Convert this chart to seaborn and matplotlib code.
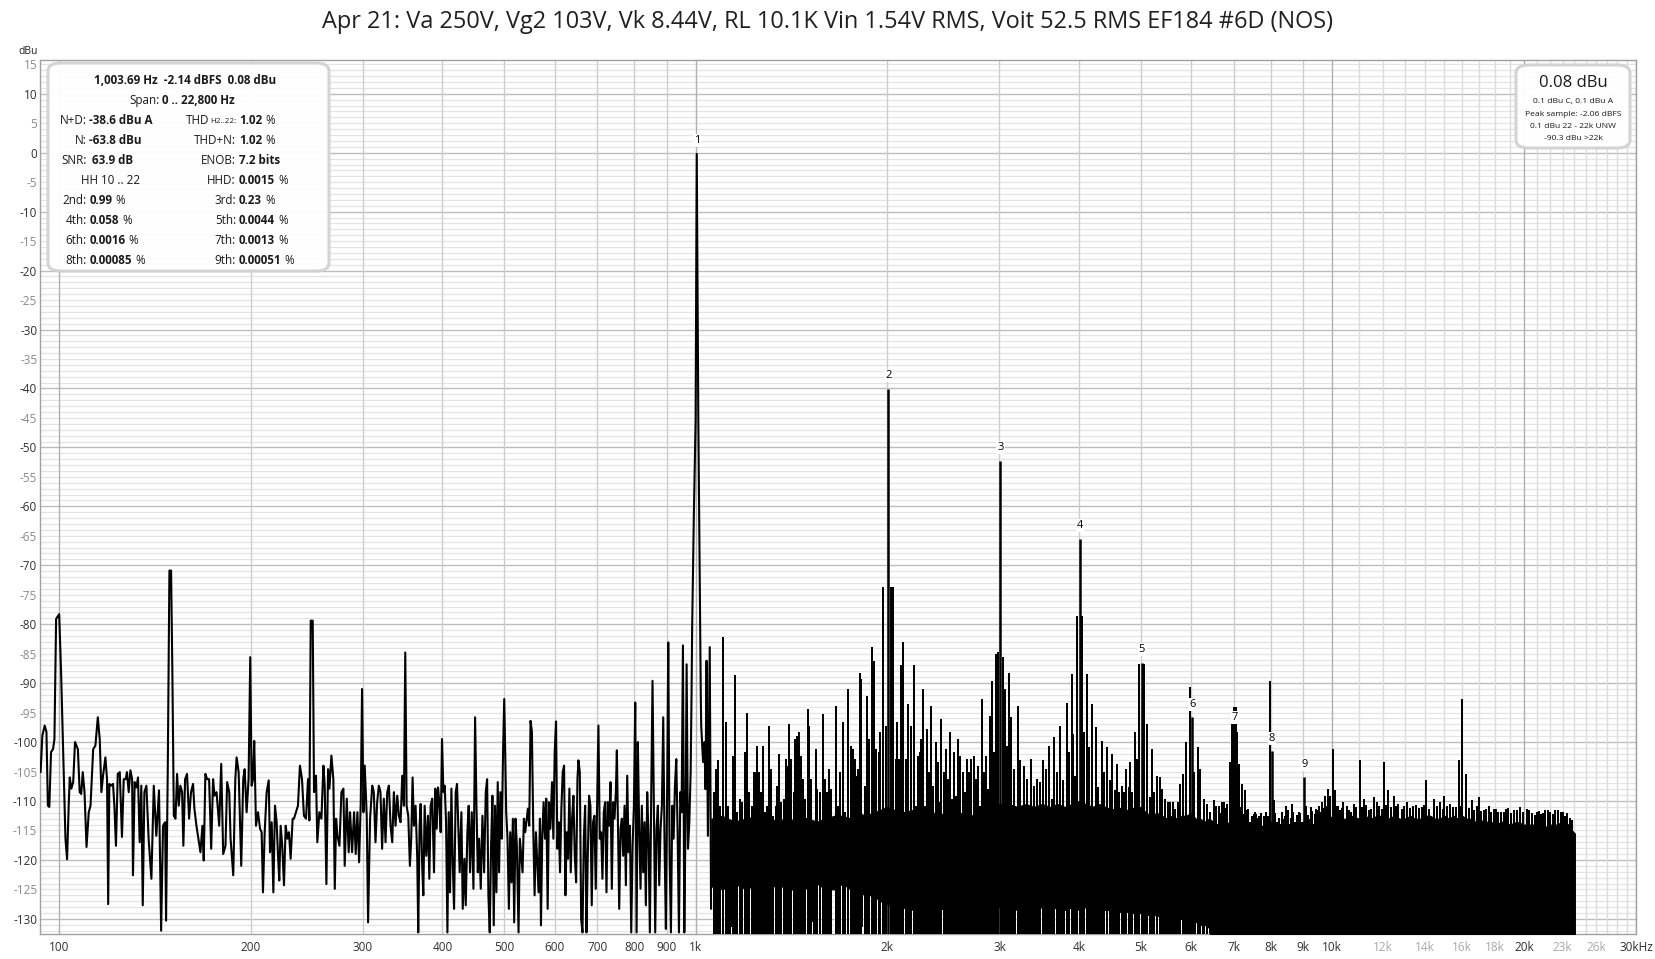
import matplotlib
matplotlib.use("Agg")
import matplotlib.pyplot as plt
from matplotlib.patches import FancyBboxPatch
import seaborn as sns

W, H = 1656, 959

TITLE = ("Apr 21: Va 250V, Vg2 103V, Vk 8.44V, RL 10.1K Vin 1.54V RMS, "
         "Voit 52.5 RMS EF184 #6D (NOS)")

# spectrum trace below ~1.06 kHz, read point by point (Hz / dBu)
trace_freq = [
    93.5, 94.1, 94.9, 95.5, 96.0, 96.5, 97.1, 97.8, 98.3, 98.9, 100.0, 100.7,
    101.4, 102.3, 102.9, 103.5, 103.9, 104.5, 105.2, 105.9, 107.0, 107.7, 108.3,
    108.9, 109.6, 110.4, 111.3, 112.0, 113.1, 114.0, 115.0, 115.8, 116.5, 117.2,
    118.2, 118.9, 119.4, 119.9, 120.6, 121.5, 122.1, 122.8, 123.6, 124.5, 125.5,
    126.3, 127.2, 127.8, 128.6, 129.4, 130.2, 130.6, 131.4, 132.2, 133.0, 133.8,
    134.6, 135.3, 136.1, 137.1, 138.2, 139.6, 140.8, 142.1, 143.5, 144.6, 145.6,
    146.7, 147.2, 148.1, 149.0, 149.9, 150.6, 151.4, 152.3, 153.2, 154.1, 155.0,
    156.0, 156.7, 157.7, 158.8, 160.0, 161.1, 162.3, 163.1, 164.3, 165.5, 166.7,
    167.9, 168.7, 169.7, 170.8, 172.0, 173.3, 174.5, 175.4, 176.7, 178.4, 179.7,
    181.0, 182.5, 183.6, 185.0, 185.9, 187.7, 189.1, 190.0, 191.4, 192.3, 193.2,
    194.6, 195.6, 197.0, 198.4, 199.6, 200.6, 201.6, 202.5, 203.8, 205.3, 206.8,
    208.0, 209.0, 210.3, 211.8, 213.4, 214.4, 215.7, 217.0, 218.3, 219.6, 220.7,
    221.7, 222.8, 224.1, 225.5, 226.9, 228.3, 229.6, 231.0, 232.7, 233.8, 235.5,
    237.2, 238.9, 240.7, 242.4, 244.2, 246.0, 247.2, 248.4, 250.2, 251.4, 253.2,
    254.4, 256.3, 258.2, 260.1, 261.3, 262.9, 264.5, 265.8, 267.7, 269.6, 271.0,
    272.3, 273.6, 275.6, 277.6, 279.6, 280.9, 283.0, 285.0, 286.4, 288.5, 290.6,
    292.3, 294.1, 295.9, 297.7, 299.1, 300.6, 302.0, 304.2, 305.7, 307.9,
    310.3, 312.1, 314.0, 315.9, 317.8, 319.7, 321.6, 323.6, 325.6, 327.6, 329.6,
    331.6, 333.6, 335.6, 337.6, 339.7, 341.7, 343.8, 345.9, 348.0, 349.7, 351.4,
    353.5, 355.6, 357.3, 359.1, 360.8, 363.0, 365.2, 366.5, 368.3, 369.7, 371.9,
    373.3, 375.1, 377.3, 379.6, 381.5, 383.3, 385.6, 388.0, 389.9, 391.8, 393.7,
    395.6, 397.5, 399.4, 401.4, 403.3, 405.3, 407.3, 409.2, 411.2, 413.2, 415.2,
    417.2, 419.7, 421.7, 423.8, 425.8, 428.4, 430.5, 433.1, 435.2, 437.8, 439.9,
    442.1, 444.8, 447.5, 450.2, 452.4, 454.6, 456.8, 459.5, 462.3, 465.1, 467.9,
    470.2, 472.4, 474.7, 477.0, 479.3, 481.6, 483.9, 486.3, 488.6, 491.0, 493.3,
    495.7, 498.1, 500.2, 502.0, 503.8, 506.2, 508.7, 511.2, 513.6, 516.1, 518.6,
    521.1, 523.6, 526.8, 529.3, 534.5, 537.1, 539.7, 544.9, 547.6, 550.2, 552.9,
    555.6, 558.3, 561.0, 566.4, 569.2, 571.3, 574.0, 576.8, 579.6, 582.4, 585.3,
    588.1, 591.0, 594.6, 597.5, 600.4, 603.3, 606.2, 609.1, 612.1, 615.1, 618.1,
    621.1, 624.1, 627.1, 630.2, 633.2, 636.3, 639.4, 642.5, 645.6, 648.8, 651.9,
    654.3, 657.5, 660.7, 663.9, 667.1, 670.3, 673.6, 676.6, 679.9, 683.2, 686.5,
    689.8, 693.2, 696.5, 699.9, 703.3, 706.7, 710.2, 713.6, 717.1, 720.6, 724.1,
    727.6, 731.1, 734.7, 738.2, 741.8, 745.4, 749.1, 751.8, 754.5, 758.2, 761.9,
    765.5, 769.2, 773.0, 776.7, 780.5, 784.3, 788.1, 791.9, 795.8, 799.6, 803.5,
    807.4, 811.1, 815.1, 819.0, 822.9, 826.9, 830.9, 834.9, 839.0, 843.0, 847.1,
    851.2, 855.3, 859.5, 863.7, 867.8, 872.0, 876.3, 880.5, 884.8, 889.1, 893.4,
    897.7, 902.1, 905.4, 909.8, 914.2, 918.6, 923.1, 927.6, 932.1, 936.6, 941.1,
    945.7, 950.2, 954.8, 959.5, 964.1, 967.6, 972.4, 977.1, 981.8, 985.0, 987.2,
    993.0, 999.6, 1002.5, 1003.7, 1005.0, 1009.4, 1014.0, 1018.6, 1020.0, 1027.0,
    1032.0, 1036.0, 1040.0, 1045.0, 1052.0, 1057.0,
]
trace_level = [
    -105.1, -98.9, -97.2, -98.3, -110.8, -111.0, -101.7, -101.2, -99.5, -79.1,
    -78.3, -88.2, -100.6, -116.4, -119.9, -110.8, -106.0, -107.9, -106.8, -100.0,
    -101.2, -108.5, -108.8, -105.1, -108.5, -117.8, -111.9, -110.8, -101.2, -100.6,
    -95.8, -99.5, -108.5, -105.7, -102.6, -106.3, -127.5, -107.1, -107.4, -107.1,
    -110.8, -117.6, -105.4, -105.1, -116.1, -106.3, -106.3, -105.1, -108.5, -104.8,
    -106.3, -122.6, -106.8, -107.7, -106.0, -117.0, -107.4, -127.7, -108.5, -107.4,
    -116.4, -123.2, -107.4, -115.9, -108.2, -132.0, -114.2, -113.6, -130.3, -105.1,
    -70.9, -70.9, -88.2, -112.5, -113.0, -105.4, -110.8, -107.4, -108.5, -117.6,
    -106.3, -105.4, -113.0, -108.5, -107.1, -111.3, -114.2, -116.4, -118.7, -114.2,
    -120.1, -105.4, -106.3, -106.3, -118.1, -106.3, -109.1, -108.5, -114.2, -103.7,
    -119.0, -117.6, -106.8, -108.5, -116.4, -122.6, -106.3, -102.6, -105.1, -113.3,
    -121.0, -106.3, -104.6, -111.9, -106.3, -85.6, -107.4, -106.3, -99.8, -114.2,
    -111.9, -114.7, -115.3, -125.5, -115.3, -108.5, -106.5, -118.7, -113.6, -125.5,
    -110.8, -113.6, -119.3, -123.5, -114.2, -117.6, -124.3, -114.2, -116.4, -115.3,
    -119.8, -113.0, -113.0, -111.9, -110.8, -104.0, -106.3, -112.5, -113.0, -106.3,
    -113.3, -79.4, -79.4, -108.5, -105.7, -117.0, -111.9, -113.0, -104.0, -107.4,
    -124.1, -104.6, -107.9, -102.3, -106.3, -124.9, -113.0, -115.9, -117.6, -108.5,
    -107.9, -121.0, -109.6, -118.7, -111.9, -118.7, -111.9, -119.0, -111.9, -120.4,
    -110.2, -91.0, -111.9, -104.0, -112.5, -130.6, -113.0,
    -107.4, -108.5, -117.0, -110.2, -107.4, -108.5, -118.1, -109.6, -117.0, -108.5,
    -107.4, -114.2, -117.0, -108.5, -114.2, -109.1, -112.5, -113.6, -105.7, -110.8,
    -84.8, -110.8, -112.5, -121.0, -116.4, -106.0, -114.2, -110.8, -119.8, -132.3,
    -114.2, -110.5, -121.5, -126.0, -110.8, -119.3, -112.5, -123.2, -110.8, -109.6,
    -122.1, -107.9, -114.7, -107.7, -110.2, -115.3, -99.5, -108.5, -107.4, -113.6,
    -132.3, -111.9, -125.5, -107.9, -120.4, -128.3, -108.5, -107.1, -114.7, -122.1,
    -111.9, -128.3, -119.8, -127.7, -115.3, -110.8, -122.1, -111.9, -124.9, -95.8,
    -110.8, -122.1, -116.4, -124.9, -112.5, -122.1, -108.5, -106.3, -126.0, -132.3,
    -117.6, -109.1, -131.1, -110.8, -125.5, -106.8, -122.1, -108.5, -116.4, -101.7,
    -92.7, -101.7, -111.9, -116.4, -128.3, -115.3, -123.8, -113.0, -130.6, -113.0,
    -117.6, -132.3, -116.4, -122.1, -113.0, -115.3, -111.3, -114.2, -96.4, -98.3,
    -114.7, -126.0, -115.3, -125.5, -113.0, -131.1, -115.9, -110.2, -116.4, -109.6,
    -128.3, -110.2, -114.7, -106.8, -116.4, -101.7, -96.5, -118.1, -113.6, -122.1,
    -111.3, -105.1, -104.0, -126.0, -115.3, -119.8, -107.9, -122.1, -113.0, -109.1,
    -119.3, -123.8, -106.3, -103.1, -105.1, -130.0, -132.3, -116.4, -110.8, -132.3,
    -119.8, -109.1, -110.8, -127.7, -113.6, -112.5, -124.9, -110.8, -97.2, -116.4,
    -115.3, -123.2, -111.9, -110.2, -125.5, -110.2, -114.2, -106.8, -124.9, -110.2,
    -113.0, -108.5, -101.4, -112.5, -128.3, -114.7, -113.0, -119.3, -110.8, -124.3,
    -105.7, -118.7, -114.2, -132.3, -117.6, -110.8, -93.3, -132.3, -100.0, -114.7,
    -124.9, -110.8, -122.1, -113.6, -127.7, -108.5, -115.9, -132.3, -109.6, -89.6,
    -110.8, -132.3, -114.7, -110.8, -124.3, -114.7, -110.8, -95.8, -117.6, -131.7,
    -106.3, -83.1, -119.3, -132.3, -110.8, -116.4, -107.4, -102.9, -115.3, -132.3,
    -108.5, -111.9, -83.6, -132.3, -111.9, -86.8, -118.1, -113.6, -105.1, -92.0,
    -80.5, -62.0, -45.3, -10.0, -0.2, -10.0, -45.3, -70.0, -92.9, -97.2, -103.4,
    -100.0, -108.0, -86.2, -115.9, -83.9, -128.3,
]

# solid noise floor above 1 kHz: upper and lower edge (Hz / dBu)
band_freq = [
    1058, 1100, 1150, 1200, 1250, 1300, 1350, 1400, 1450, 1500, 1550, 1600,
    1650, 1700, 1750, 1800, 1850, 1900, 1950, 2000, 2050, 2100, 2200, 2300,
    2400, 2500, 2600, 2700, 2800, 2900, 3000, 3100, 3200, 3300, 3400, 3500,
    3600, 3700, 3800, 3900, 4000, 4100, 4200, 4300, 4400, 4500, 4600, 4700,
    4800, 4900, 5000, 5100, 5200, 5300, 5400, 5500, 5600, 5700, 5800, 5900,
    6000, 6100, 6200, 6300, 6400, 6500, 6600, 6700, 6800, 6900, 7000, 7100,
    7200, 7300, 7400, 7500, 7600, 7700, 7800, 7900, 8000, 8100, 8200, 8300,
    8400, 8500, 8600, 8700, 8800, 8900, 9000, 9100, 9200, 9300, 9400, 9500,
    9600, 9700, 9800, 9900, 10000, 10250, 10500, 10750, 11000, 11250, 11500,
    11750, 12000, 12250, 12500, 12750, 13000, 13250, 13500, 13750, 14000,
    14250, 14500, 14750, 15000, 15250, 15500, 15750, 16000, 16250, 16500,
    16750, 17000, 17250, 17500, 17750, 18000, 18500, 19000, 19500, 20000,
    20500, 21000, 21500, 22000, 22500, 23000, 23500, 23800, 24050,
]
band_top = [
    -113.0, -112.5, -113.5, -113.0, -112.5, -113.5, -113.0, -113.5, -112.5,
    -113.0, -113.5, -113.0, -112.5, -112.5, -113.0, -112.0, -112.5, -112.0,
    -111.5, -111.0, -111.5, -112.0, -111.5, -112.0, -112.0, -112.5, -112.0,
    -112.5, -112.0, -111.5, -110.5, -110.5, -111.0, -110.5, -111.0, -110.5,
    -111.0, -110.5, -111.0, -110.5, -110.0, -110.5, -111.0, -110.5, -111.0,
    -111.5, -111.0, -111.5, -111.5, -111.0, -111.0, -112.0, -112.5, -112.0,
    -112.5, -113.0, -112.5, -113.0, -112.5, -112.5, -112.0, -113.0, -113.0,
    -113.5, -113.0, -113.5, -114.0, -113.5, -114.0, -113.5, -113.0, -113.5,
    -114.0, -114.0, -114.5, -114.0, -114.5, -114.0, -114.5, -114.0, -113.5,
    -114.0, -114.5, -114.0, -114.5, -114.0, -114.5, -114.0, -114.0, -114.5,
    -113.5, -114.0, -113.5, -114.0, -114.0, -113.5, -113.5, -113.0, -113.0,
    -113.0, -112.5, -113.0, -113.0, -112.5, -113.0, -112.5, -113.0, -112.5,
    -112.5, -113.0, -112.5, -113.0, -113.0, -112.5, -113.0, -113.0, -112.5,
    -112.5, -113.0, -113.0, -112.5, -113.0, -112.5, -113.0, -112.5, -113.0,
    -113.0, -113.5, -113.0, -113.5, -113.5, -113.5, -114.0, -113.5, -114.0,
    -113.5, -114.0, -114.0, -114.0, -114.5, -114.0, -114.0, -113.5, -114.0,
    -115.0, -115.5,
]
band_bottom = [
    -124.5, -125.0, -124.0, -125.0, -124.0, -125.0, -124.0, -125.5, -124.0,
    -125.0, -124.0, -125.0, -125.0, -124.0, -125.0, -125.5, -126.0, -126.0,
    -127.0, -127.5, -128.0, -128.0, -128.5, -128.0, -128.5, -128.0, -128.5,
    -128.0, -128.5, -128.0, -128.0, -128.0, -128.5, -128.0, -128.5, -128.0,
    -128.5, -128.0, -128.5, -128.0, -128.5, -128.0, -128.5, -128.0, -128.5,
    -128.5, -129.0, -128.5, -129.0, -129.0, -129.0, -129.5, -129.0, -129.5,
    -129.5, -130.0, -129.5, -130.0, -130.0, -130.5, -130.0, -130.5, -131.0,
    -131.0, -131.5,
] + [-135.0] * 81

# narrow spurs standing out of the noise floor (Hz / dBu)
spike_freq = [
    1068, 1076, 1083, 1091, 1102, 1115, 1123, 1134, 1145, 1152, 1162, 1173,
    1183, 1193, 1205, 1213, 1224, 1234, 1240, 1249, 1258, 1267, 1276, 1286,
    1295, 1303, 1314, 1324, 1336, 1343, 1353, 1362, 1376, 1386, 1392, 1402,
    1413, 1426, 1433, 1443, 1454, 1465, 1475, 1486, 1499, 1508, 1520, 1533,
    1543, 1552, 1567, 1584, 1594, 1609, 1621, 1633, 1660, 1672, 1685, 1705,
    1717, 1736, 1751, 1764, 1776, 1787, 1800, 1811, 1820, 1842, 1855, 1871,
    1891, 1905, 1923, 1937, 1951, 1966, 1987, 2028, 2043, 2060, 2073, 2088,
    2103, 2118, 2136, 2157, 2175, 2202, 2218, 2234, 2250, 2261, 2277, 2294,
    2310, 2327, 2344, 2361, 2384, 2401, 2419, 2430, 2454, 2472, 2490, 2508,
    2526, 2544, 2563, 2581, 2600, 2625, 2644, 2663, 2683, 2709, 2735, 2755,
    2775, 2795, 2812, 2836, 2857, 2877, 2898, 2919, 2940, 2962, 2983, 3034,
    3056, 3078, 3108, 3129, 3166, 3205, 3236, 3275, 3315, 3363, 3397, 3438,
    3471, 3514, 3548, 3591, 3630, 3661, 3697, 3741, 3778, 3824, 3856, 3894,
    3917, 3950, 3974, 4045, 4080, 4119, 4154, 4199, 4250, 4291, 4354, 4385,
    4428, 4471, 4514, 4563, 4591, 4624, 4674, 4714, 4748, 4788, 4817, 4852,
    4899, 4935, 4971, 5056, 5117, 5167, 5211, 5255, 5306, 5357, 5409, 5461,
    5514, 5568, 5622, 5669, 5717, 5758, 5828, 5899, 5985, 6072, 6146, 6205,
    6281, 6357, 6434, 6512, 6575, 6639, 6703, 6752, 6834, 6901, 6959, 7001,
    7052, 7086, 7146, 7224, 7294, 7365, 7436, 7526, 7599, 7673, 7756, 7850,
    7926, 7993, 8090, 8188, 8288, 8389, 8470, 8552, 8635, 8740, 8868, 8954,
    9106, 9184, 9261, 9351, 9442, 9533, 9649, 9742, 9837, 9932, 10028, 10113,
    10199, 10300, 10404, 10709, 10900, 11049, 11210, 11400, 11623, 11764,
    12051, 12226, 12494, 12700, 13105, 13400, 13700, 14050, 14427, 14779,
    14994, 15300, 15500, 15790, 16000, 16194, 16570, 16975, 17300, 17600,
    17922, 18200, 18582, 18900, 19300, 19743, 20200, 20600, 21000, 21258,
    21600, 22000, 22400, 22846, 23234, 23600,
]
spike_level = [
    -108.5, -104.6, -103.1, -110.8, -82.2, -96.6, -110.8, -114.7, -102.3, -88.7,
    -111.9, -109.6, -110.2, -101.7, -95.0, -108.5, -110.8, -105.1, -105.1,
    -100.6, -105.1, -108.5, -100.6, -111.9, -110.8, -97.2, -104.6, -112.5,
    -110.8, -107.4, -102.0, -110.2, -109.6, -102.9, -104.0, -96.9, -102.9,
    -108.5, -99.5, -98.9, -98.3, -102.3, -106.3, -109.6, -94.4, -97.2, -106.3,
    -114.2, -101.2, -107.9, -108.5, -95.2, -106.3, -108.5, -104.6, -107.9,
    -93.8, -110.8, -105.1, -96.6, -111.9, -91.0, -100.6, -101.2, -102.9,
    -105.7, -104.6, -88.2, -89.3, -107.4, -92.1, -99.5, -83.9, -86.2, -101.2,
    -101.7, -98.3, -73.7, -97.2, -73.7, -73.7, -102.9, -96.6, -102.9, -87.0,
    -83.1, -102.9, -93.5, -97.2, -87.0, -110.8, -102.3, -101.7, -99.5, -91.0,
    -110.8, -97.8, -105.1, -93.8, -107.4, -100.0, -103.4, -110.2, -96.1,
    -105.1, -101.2, -106.3, -98.3, -109.6, -101.7, -109.1, -99.5, -102.3,
    -105.1, -108.5, -102.9, -105.1, -102.9, -102.3, -106.3, -104.0, -110.8,
    -92.7, -105.1, -102.3, -107.9, -95.5, -89.6, -101.7, -85.1, -84.8, -85.6,
    -91.0, -100.6, -88.2, -95.8, -104.6, -93.8, -103.1, -104.0, -106.3,
    -102.9, -107.4, -106.3, -106.8, -103.1, -104.6, -100.6, -109.6, -99.2,
    -105.1, -97.2, -106.5, -93.3, -101.7, -88.5, -98.6, -105.7, -78.6, -78.6,
    -98.3, -88.5, -100.9, -93.5, -97.5, -107.7, -99.8, -105.1, -100.9, -106.5,
    -102.0, -108.2, -103.7, -108.5, -107.4, -108.5, -104.6, -107.7, -103.4,
    -108.5, -98.3, -102.9, -86.7, -86.7, -96.9, -109.4, -101.2, -108.5,
    -105.7, -106.0, -107.9, -109.6, -110.2, -110.2, -110.2, -111.3, -110.2,
    -107.1, -105.4, -100.0, -90.6, -105.1, -100.9, -104.6, -109.6, -110.5,
    -111.9, -109.9, -110.8, -110.8, -110.2, -110.2, -110.5, -103.4, -96.9,
    -94.1, -94.1, -98.3, -103.7, -107.1, -108.2, -111.3, -113.6, -112.2,
    -112.2, -112.5, -114.2, -112.8, -112.5, -89.7, -109.9, -113.6, -113.9,
    -113.0, -110.8, -113.9, -110.5, -113.6, -111.9, -113.6, -110.8, -113.0,
    -111.0, -113.9, -111.3, -110.8, -110.2, -109.1, -107.9, -109.1, -101.2,
    -108.2, -110.8, -111.5, -110.2, -111.9, -111.0, -103.1, -109.6, -111.5,
    -109.4, -110.2, -103.3, -108.2, -109.1, -110.5, -110.2, -110.8, -111.2,
    -106.5, -109.6, -110.2, -109.1, -110.5, -111.0, -103.1, -92.7, -105.4,
    -109.9, -109.4, -111.5, -110.9, -111.3, -111.8, -111.9, -111.2, -111.6,
    -111.0, -111.4, -112.0, -111.8, -112.2, -111.5, -111.9, -111.6, -111.9,
    -112.5, -112.8,
]

# short "grass" on top of the high-frequency noise floor (Hz / dBu)
grass_freq = [
    6550, 6680, 6780, 6960, 7120, 7190, 7260, 7330, 7480, 7560, 7640, 7720,
    7800, 7880, 8140, 8240, 8340, 8430, 8510, 8600, 8690, 8800, 8910, 9060,
    9150, 9300, 9400, 9490, 9590, 9700, 9790, 9880, 10150, 10350, 10550,
    10620, 10800, 11150, 11300, 11500, 11850, 11950, 12150, 12350, 12600,
    12850, 12950, 13250, 13550, 13850, 13950, 14200, 14600, 14900, 15150,
    15650, 15900, 16400, 16700, 16850, 17100, 17450, 17750, 18050, 18400,
    18750, 19100, 19500, 19900, 20400, 20800, 21100, 21450, 21800, 22200,
    22600, 23000, 23400, 23800,
]
grass_level = [
    -111.5, -112.0, -111.2, -111.8, -112.0, -111.0, -112.2, -111.5, -112.5,
    -111.8, -112.8, -112.0, -112.6, -111.9, -112.0, -112.8, -111.8, -112.5,
    -111.5, -112.8, -111.9, -112.3, -112.0, -111.6, -112.4, -111.7, -112.2,
    -111.5, -111.9, -111.2, -110.8, -111.4, -110.9, -111.2, -110.8, -111.5,
    -110.5, -111.0, -110.7, -111.3, -110.9, -111.4, -110.6, -111.0, -110.8,
    -111.3, -110.9, -111.2, -110.7, -111.0, -110.6, -111.3, -110.9, -111.4,
    -110.8, -111.1, -110.8, -111.2, -111.6, -110.9, -111.7, -111.3, -111.9,
    -111.4, -111.9, -111.3, -112.1, -111.5, -111.9, -111.6, -112.3, -111.7,
    -112.1, -111.6, -112.2, -111.5, -111.8, -112.1, -113.2,
]

# narrow dips reaching below the noise band (Hz / dBu)
dip_freq = [
    1071, 1118, 1141, 1179, 1228, 1252, 1291, 1314, 1360, 1386, 1443, 1482,
    1529, 1570, 1627, 1667, 1717, 1751, 1794, 1827, 1860, 1895, 1951, 1979,
    2045, 2085, 2110, 2140, 2160, 2202, 2222, 2242, 2262, 2283, 2304, 2324,
    2346, 2367, 2396, 2420, 2454, 2484, 2500, 2529, 2552, 2575, 2598, 2622,
    2646, 2670, 2694, 2718, 2745, 2775, 2802, 2836, 2870, 2905, 2930, 2958,
    2985, 3012, 3035, 3066, 3075, 3103, 3140, 3178, 3215, 3255, 3295, 3335,
    3375, 3416, 3445, 3477, 3520, 3562, 3585, 3606, 3660, 3719, 3750, 3788,
    3834, 3865, 3910, 3960, 4021, 4080, 4144, 4180, 4219, 4270, 4323, 4370,
    4420, 4482, 4520, 4563, 4620, 4680, 4731, 4790, 4846, 4900, 4960, 5025,
    5070, 5117, 5180, 5242, 5300, 5370, 5435, 5500, 5570, 5636, 5700, 5773,
    5840, 5913, 5960, 6020, 6080, 6150, 6205, 6270, 6357, 6420, 6473,
]
dip_level = [
    -130.8, -128.9, -131.4, -129.1, -133.0, -128.9, -131.7, -129.4, -127.7,
    -130.0, -133.0, -128.9, -130.6, -129.4, -133.0, -130.0, -133.0, -133.0,
    -128.9, -131.4, -130.0, -133.0, -133.0, -133.0,
] + [-133.0] * 107

# harmonics of the 1,003.69 Hz fundamental
harmonic_order = [1, 2, 3, 4, 5, 6, 7, 8, 9]
harmonic_freq = [1003.7, 2007.4, 3011.1, 4014.8, 5018.5, 6022.1, 7025.8,
                 8029.5, 9033.2]
harmonic_level = [-0.2, -40.1, -52.3, -65.5, -86.5, -95.8, -98.1, -101.6,
                  -106.0]

# axis ticks
x_ticks = [100, 200, 300, 400, 500, 600, 700, 800, 900, 1000, 2000, 3000,
           4000, 5000, 6000, 7000, 8000, 9000, 10000, 12000, 14000, 16000,
           18000, 20000, 23000, 26000, 30000]
x_tick_labels = ["100", "200", "300", "400", "500", "600", "700", "800",
                 "900", "1k", "2k", "3k", "4k", "5k", "6k", "7k", "8k", "9k",
                 "10k", "12k", "14k", "16k", "18k", "20k", "23k", "26k",
                 "30kHz"]
x_faint_labels = ["12k", "14k", "16k", "18k", "23k", "26k"]
y_ticks = list(range(-130, 16, 5))

# measurement read-outs
stats_header = "1,003.69 Hz  -2.14 dBFS  0.08 dBu"
span_label, span_value = "Span:", "0 .. 22,800 Hz"
left_labels = ["N+D:", "N:", "SNR:", "", "2nd:", "4th:", "6th:", "8th:"]
left_values = ["-38.6 dBu A", "-63.8 dBu", " 63.9 dB", "", "0.99", "0.058",
               "0.0016", "0.00085"]
left_units = ["", "", "", "", "%", "%", "%", "%"]
right_labels = ["THD", "THD+N:", "ENOB:", "HHD:", "3rd:", "5th:", "7th:",
                "9th:"]
right_values = ["1.02", "1.02", "7.2 bits", "0.0015", "0.23", "0.0044",
                "0.0013", "0.00051"]
right_units = ["%", "%", "", "%", "%", "%", "%", "%"]
level_big = "0.08 dBu"
level_lines = ["0.1 dBu C, 0.1 dBu A", "Peak sample: -2.06 dBFS",
               "0.1 dBu 22 - 22k UNW", "-90.3 dBu >22k"]


def fx(px):
    return px / W


def fy(py):
    return 1 - py / H


def main():
    sns.set_theme(style="white")
    plt.rcParams['font.family'] = ['Open Sans', 'DejaVu Sans']

    fig = plt.figure(figsize=(W / 100, H / 100), dpi=100)
    ax = fig.add_axes([fx(40), fy(933.6), fx(1636) - fx(40),
                       fy(60.2) - fy(933.6)])
    ax.set_xscale('log')

    # grid
    for y in range(-132, 16):
        if y % 10 == 0:
            ax.axhline(y, color='#bdbdbd', lw=1.0, zorder=0)
        else:
            ax.axhline(y, color='#e4e4e4', lw=0.9, zorder=0)
    grid_f = ([f for f in range(100, 1000, 100)]
              + [f for f in range(1000, 10000, 1000)])
    for f in grid_f:
        dark = f in (100, 1000)
        ax.axvline(f, color='#b0b0b0' if dark else '#cdcdcd', lw=1.0, zorder=0)
    for f in range(10000, 30001, 1000):
        dark = f in (10000, 20000, 30000)
        ax.axvline(f, color='#b0b0b0' if dark else '#dcdcdc', lw=1.0, zorder=0)

    # spectrum
    sns.lineplot(x=trace_freq, y=trace_level, ax=ax, color='black', lw=1.5,
                 estimator=None, sort=False, zorder=3)
    ax.fill_between(band_freq, band_bottom, band_top, color='black',
                    lw=0.8, zorder=3)
    ax.vlines(spike_freq, -135, spike_level, color='black', lw=1.4,
              antialiased=False, zorder=3)
    ax.vlines(grass_freq, -135, grass_level, color='black', lw=1.4,
              antialiased=False, zorder=3)
    ax.vlines(dip_freq, dip_level, -122, color='black', lw=1.4,
              antialiased=False, zorder=3)
    ax.vlines(harmonic_freq[1:], -135, harmonic_level[1:], color='black',
              lw=1.8, zorder=3)

    for n, f, lv in zip(harmonic_order, harmonic_freq, harmonic_level):
        ax.annotate(str(n), (f, lv), xytext=(0, 9.5),
                    textcoords='offset points', ha='center', va='center',
                    fontsize=8, color='black', zorder=6,
                    bbox=dict(boxstyle='square,pad=0.08', fc='white',
                              ec='none'))

    ax.set_xlim(93.3, 30000)
    ax.set_ylim(-132.5, 15.7)
    ax.set_xlabel('')
    ax.set_ylabel('')

    ax.set_xticks(x_ticks)
    ax.set_xticklabels(x_tick_labels)
    ax.xaxis.set_minor_locator(plt.NullLocator())
    ax.set_yticks(y_ticks)
    ax.set_yticklabels([str(v) for v in y_ticks])
    ax.tick_params(axis='both', length=0, labelsize=8.5)
    ax.tick_params(axis='x', pad=5)
    ax.tick_params(axis='y', pad=2)
    for lab in ax.get_xticklabels():
        lab.set_color('#a8a8a8' if lab.get_text() in x_faint_labels
                      else '#303030')
    for lab, v in zip(ax.get_yticklabels(), y_ticks):
        lab.set_color('#303030' if v % 10 == 0 else '#8a8a8a')

    for sp in ax.spines.values():
        sp.set_color('#a0a0a0')
        sp.set_linewidth(1.0)

    # title and unit label
    fig.text(0.5, fy(22), TITLE, ha='center', va='center', fontsize=16.9,
             color='#202020')
    fig.text(fx(28), fy(52), 'dBu', ha='center', va='center', fontsize=7.5,
             color='#202020')

    # read-out boxes
    box = FancyBboxPatch((fx(48), fy(271)), fx(329) - fx(48),
                         fy(63) - fy(271),
                         boxstyle='round,pad=0,rounding_size=0.008',
                         transform=fig.transFigure, fc='white', ec='#d2d2d2',
                         lw=2.2, alpha=0.95, zorder=5)
    fig.patches.append(box)
    box2 = FancyBboxPatch((fx(1516), fy(148)), fx(1630) - fx(1516),
                          fy(65) - fy(148),
                          boxstyle='round,pad=0,rounding_size=0.008',
                          transform=fig.transFigure, fc='white', ec='#d2d2d2',
                          lw=2.2, alpha=0.95, zorder=5)
    fig.patches.append(box2)

    fs = 8.4
    kw = dict(fontsize=fs, va='center', color='#1a1a1a', zorder=7)
    fig.text(fx(185.5), fy(80.5), stats_header, ha='center', weight='bold',
             **kw)
    fig.text(fx(160), fy(100.5), span_label, ha='right', **kw)
    fig.text(fx(162), fy(100.5), span_value, ha='left', weight='bold', **kw)

    row_y = [120, 140, 160, 180, 200, 220, 240, 260]
    units = []
    sub = None
    for i, y in enumerate(row_y):
        if left_labels[i]:
            fig.text(fx(87), fy(y), left_labels[i], ha='right', **kw)
            t = fig.text(fx(89.5), fy(y), left_values[i], ha='left',
                         weight='bold', **kw)
            units.append((t, left_units[i], y))
        else:
            fig.text(fx(111), fy(y), "HH 10 .. 22", ha='center', **kw)
        if i == 0:
            sub = fig.text(fx(236), fy(y + 1.5), "H2..22:", ha='right',
                           fontsize=5.8, va='center', color='#1a1a1a',
                           zorder=7)
        else:
            fig.text(fx(236), fy(y), right_labels[i], ha='right', **kw)
        t = fig.text(fx(239), fy(y), right_values[i], ha='left',
                     weight='bold', **kw)
        units.append((t, right_units[i], y))

    fig.canvas.draw()
    sb = sub.get_window_extent()
    fig.text(fx(sb.x0 - 0.5), fy(row_y[0]), right_labels[0], ha='right', **kw)
    for t, u, y in units:
        if u:
            bb = t.get_window_extent()
            fig.text(fx(bb.x1 + 3), fy(y), u, ha='left', **kw)

    fig.text(fx(1573), fy(83), level_big, ha='center', va='center',
             fontsize=12, color='#1a1a1a', zorder=7)
    for y, s in zip([101.5, 114, 126.5, 139], level_lines):
        fig.text(fx(1573), fy(y), s, ha='center', va='center', fontsize=6.1,
                 color='#1a1a1a', zorder=7)

    fig.savefig('out.png', dpi=100)


if __name__ == "__main__":
    main()
